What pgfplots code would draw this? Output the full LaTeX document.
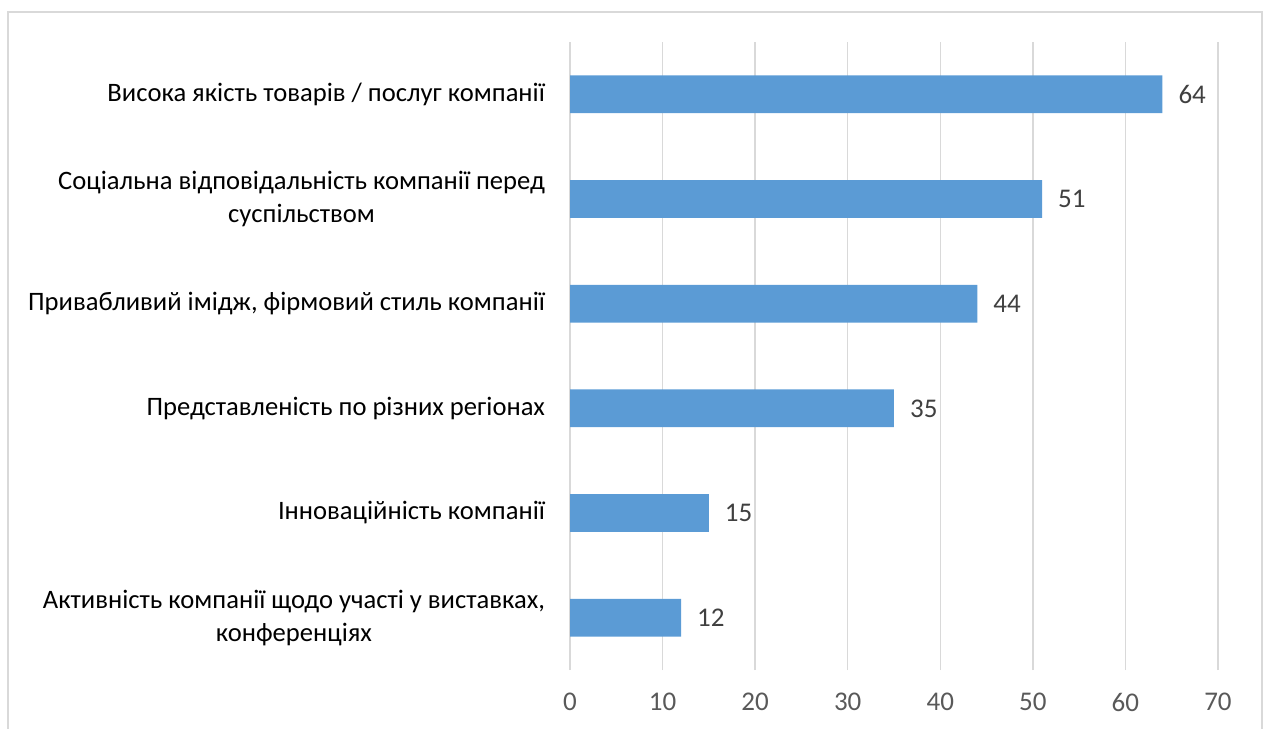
\documentclass[border=0pt]{standalone}
\usepackage{pgfplots}
\pgfplotsset{compat=1.18}
\usepackage{fontspec}
\setmainfont{Carlito}
\definecolor{barblue}{HTML}{5B9BD5}
\definecolor{gridgray}{HTML}{D9D9D9}
\definecolor{ticktext}{HTML}{595959}
\definecolor{valtext}{HTML}{404040}
\begin{document}
\begin{tikzpicture}[x=1pt,y=1pt]
\path[use as bounding box] (0,0) rectangle (634,364);
\draw[gridgray, line width=0.8pt] (4,-5) -- (4,358) -- (631,358) -- (631,-5);
\begin{axis}[
  at={(285pt,29pt)}, anchor=south west,
  scale only axis, width=324pt, height=314pt,
  xbar, bar width=0.36,
  xmin=0, xmax=70, xtick={0,10,...,70},
  ymin=-0.5, ymax=5.5,
  ytick={0,1,2,3,4,5},
  yticklabels={{Активність компанії щодо участі у виставках,\\конференціях},
               {Інноваційність компанії},
               {Представленість по різних регіонах},
               {Привабливий імідж, фірмовий стиль компанії},
               {Соціальна відповідальність компанії перед\\суспільством},
               {Висока якість товарів / послуг компанії}},
  yticklabel style={align=center, font=\fontsize{13.3}{16.5}\selectfont, text=black, xshift=-9pt},
  xticklabel style={font=\fontsize{13.5}{16}\selectfont, text=ticktext, yshift=-8pt},
  /pgf/number format/assume math mode=true,
  axis line style={draw=none},
  major tick length=0pt,
  xmajorgrids, grid style={gridgray, line width=0.7pt},
  nodes near coords,
  nodes near coords style={font=\fontsize{13.5}{16}\selectfont, text=valtext, xshift=4.5pt},
  clip=false,
]
\addplot[fill=barblue, draw=none] coordinates {(12,0) (15,1) (35,2) (44,3) (51,4) (64,5)};
\end{axis}
\end{tikzpicture}
\end{document}
